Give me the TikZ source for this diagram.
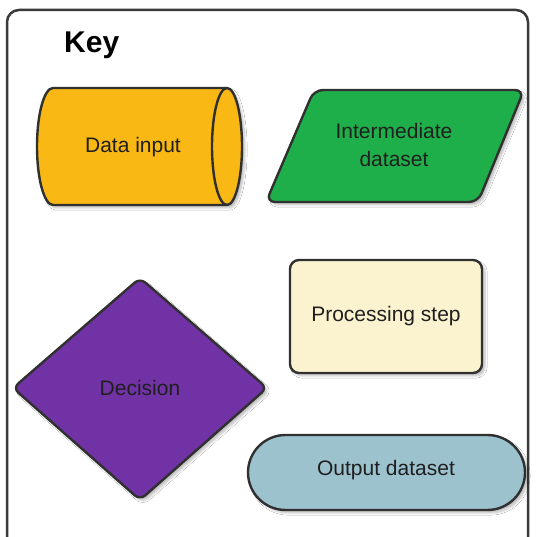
\documentclass[tikz,border=0pt]{standalone}
\usepackage{fontspec}
\setmainfont{Liberation Sans}
\usetikzlibrary{shadows.blur}
\definecolor{outl}{HTML}{303030}
\definecolor{amber}{HTML}{F9B814}
\definecolor{grn}{HTML}{1FAF4A}
\definecolor{purp}{HTML}{7132A6}
\definecolor{cream}{HTML}{FBF3CF}
\definecolor{bluegrey}{HTML}{9CC2CE}
\definecolor{framec}{HTML}{3A3A3A}
\tikzset{
  keyshape/.style={draw=outl, line width=2.4pt, line join=round,
    blur shadow={shadow xshift=3pt, shadow yshift=-3pt, shadow blur steps=6, shadow opacity=25}},
  lbl/.style={font=\fontsize{21}{28}\selectfont, text=black!88, align=center, inner sep=0pt}
}
\begin{document}
\begin{tikzpicture}[x=1pt,y=1pt]
\useasboundingbox (0,0) rectangle (535,537);
\clip (0,0) rectangle (535,537);
\fill[white] (0,0) rectangle (535,537);
% frame
\draw[framec, line width=2.5pt, rounded corners=12pt] (7,-30) rectangle (528,527);
\node[anchor=base west, inner sep=0pt, font=\fontsize{30}{36}\selectfont\bfseries] (key) at (64,484) {Key};
% data input (cylinder)
\path[keyshape, fill=amber] (53,449) -- (227,449) arc[start angle=90, end angle=-90, x radius=15, y radius=58.5]
  -- (53,332) arc[start angle=270, end angle=90, x radius=16, y radius=58.5] -- cycle;
\draw[outl, line width=2.4pt] (227,449) arc[start angle=90, end angle=270, x radius=15, y radius=58.5];
\node[lbl] (datain) at (133,390) {Data input};
% intermediate dataset (parallelogram)
\path[keyshape, fill=grn, rounded corners=9pt] (314,447) -- (524,447) -- (478,335) -- (266,335) -- cycle;
\node[lbl] (inter) at (394,392) {Intermediate\\dataset};
% processing step
\path[keyshape, fill=cream, rounded corners=9pt] (290,164) rectangle (482,277);
\node[lbl] (proc) at (386,221) {Processing step};
% decision (diamond)
\path[keyshape, fill=purp, rounded corners=7pt] (140,259) -- (267,149) -- (140,37) -- (13,149) -- cycle;
\node[lbl] (dec) at (140,149) {Decision};
% output dataset (stadium)
\path[keyshape, fill=bluegrey, rounded corners=37.5pt] (248,27) rectangle (525,102);
\node[lbl] (out) at (386,67) {Output dataset};
\end{tikzpicture}
\end{document}
